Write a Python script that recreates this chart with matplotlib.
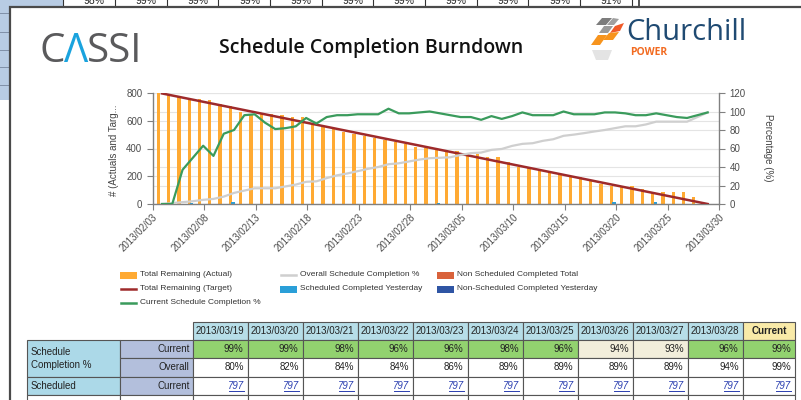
import matplotlib
matplotlib.use("Agg")
import matplotlib.pyplot as plt
import matplotlib.dates as mdates
from matplotlib.patches import Rectangle, Polygon
import pandas as pd

plt.rcParams['font.family'] = ['Liberation Sans', 'DejaVu Sans']

W, H = 801, 400

# ---------------- data ----------------
start_date = '2013-02-03'
remaining_actual = [797, 792, 780, 765, 755, 752, 722, 705, 660, 652, 652, 650, 643, 628,
                    625, 572, 557, 541, 521, 502, 492, 473, 461, 449, 432, 413, 401, 390,
                    390, 383, 363, 359, 339, 339, 306, 266, 266, 245, 235, 206, 200, 194,
                    172, 147, 133, 122, 127, 108, 80, 85, 85, 85, 47]
current_completion = [0, 0, 37, 50, 63, 52, 76, 80, 96, 97, 88, 81, 82, 84, 93, 87, 94, 96,
                      96, 97, 97, 97, 103, 98, 98, 99, 100, 98, 96, 94, 94, 91, 95, 92, 95,
                      99, 96, 96, 96, 100, 97, 97, 97, 99, 99, 98, 96, 96, 98, 96, 94, 93,
                      96, 99]
overall_completion = [0, 1, 2, 3, 4.5, 5.5, 8, 12, 14.5, 17, 17, 17, 19, 21, 24, 24.5, 28,
                      31, 33, 35.5, 38, 40, 43, 44, 46, 48, 49.5, 50, 50.5, 53, 55, 55.6,
                      58.5, 59.5, 62.8, 65, 65.7, 68.3, 70, 73.7, 75, 76.6, 78.4, 80, 82, 84,
                      84, 86, 89, 89, 89, 89, 94, 99]
target_values = [797, 0]
sched_yesterday_dates = ['2013-02-06', '2013-02-10', '2013-03-02', '2013-03-19', '2013-03-23']
sched_yesterday_vals = [10, 12, 10, 12, 12]

x_tick_labels = ['2013/02/03', '2013/02/08', '2013/02/13', '2013/02/18', '2013/02/23',
                 '2013/02/28', '2013/03/05', '2013/03/10', '2013/03/15', '2013/03/20',
                 '2013/03/25', '2013/03/30']
left_ticks = [0, 200, 400, 600, 800]
right_ticks = [0, 20, 40, 60, 80, 100, 120]

legend_labels = ['Total Remaining (Actual)', 'Overall Schedule Completion %',
                 'Non Scheduled Completed Total', 'Total Remaining (Target)',
                 'Scheduled Completed Yesterday', 'Non-Scheduled Completed Yesterday',
                 'Current Schedule Completion %']

table_dates = ['2013/03/19', '2013/03/20', '2013/03/21', '2013/03/22', '2013/03/23',
               '2013/03/24', '2013/03/25', '2013/03/26', '2013/03/27', '2013/03/28', 'Current']
table_current = [99, 99, 98, 96, 96, 98, 96, 94, 93, 96, 99]
table_overall = [80, 82, 84, 84, 86, 89, 89, 89, 89, 94, 99]
table_scheduled = [797, 797, 797, 797, 797, 797, 797, 797, 797, 797, 797]
top_strip_pct = ['98%', '99%', '99%', '99%', '99%', '99%', '99%', '99%', '99%', '99%', '91%']

# ---------------- colours ----------------
C_BAR = '#ffaa33'
C_TARGET = '#9e2a2b'
C_CURRENT = '#3a9b5c'
C_OVERALL = '#cfcfcf'
C_NONSCHED = '#d9623b'
C_SCHEDY = '#2a9fd8'
C_NONSCHEDY = '#2f55a4'

fig = plt.figure(figsize=(W / 100, H / 100), dpi=100)
bg = fig.add_axes([0, 0, 1, 1])
bg.set_xlim(0, W)
bg.set_ylim(H, 0)
bg.axis('off')
bg.set_zorder(0)

# ---- spreadsheet background ----
bg.add_patch(Rectangle((0, 0), 10, 100, fc='#b8cce4', ec='none'))
for yy in [13, 32, 50, 67, 85]:
    bg.plot([0, 10], [yy, yy], color='#8090a8', lw=0.7)
bg.add_patch(Rectangle((0, 0), 63, 8, fc='#b8cce4', ec='none'))
cell_edges = [63.3, 115, 166.7, 218.3, 270, 321.7, 373.3, 425, 476.7, 528.3, 580, 631.7]
for xe in cell_edges:
    bg.plot([xe, xe], [0, 8], color='#333333', lw=0.8)
bg.plot([639, 639], [0, 8], color='#333333', lw=1.2)
for i, t in enumerate(top_strip_pct):
    bg.text(cell_edges[i + 1] - 10, 4.5, t, fontsize=7.5, ha='right', va='baseline',
            color='#222222', clip_on=True)

# ---- white panel ----
bg.add_patch(Rectangle((10, 7), 900, 500, fc='white', ec='#4a4a4a', lw=1.6, zorder=2))

# ---- CASSI logo ----
bg.text(40, 62, 'C', fontsize=29, color='#5a5a5c', family='Open Sans', va='baseline', zorder=3)
bg.text(64.5, 62, 'Λ', fontsize=29, color='#1aa3de', family='Open Sans', va='baseline', zorder=3)
bg.text(87, 62, 'SSI', fontsize=29, color='#5a5a5c', family='Open Sans', va='baseline', zorder=3)

# ---- title ----
bg.text(371, 48, 'Schedule Completion Burndown', fontsize=14, color='#111111',
        family='Open Sans', weight='semibold', ha='center', va='center', zorder=3)

# ---- Churchill logo ----
icon = [
    ([(596, 25), (602, 18), (612, 18), (606, 25)], '#7d7d7d'),
    ([(607, 25), (613, 18), (619, 19), (614, 25)], '#a0a0a0'),
    ([(599, 33), (604, 26), (613, 26), (608, 33)], '#9a9a9a'),
    ([(610, 33), (615, 26), (624, 23), (620, 31)], '#f05a28'),
    ([(591, 45), (598, 35), (607, 35), (600, 45)], '#f7941d'),
    ([(603, 40), (609, 33), (619, 32), (613, 40)], '#f7941d'),
    ([(592, 50), (612, 50), (608, 60), (596, 60)], '#e4e4e4'),
]
for pts, col in icon:
    bg.add_patch(Polygon(pts, closed=True, fc=col, ec='none', zorder=3))
bg.text(626, 40.5, 'Churchill', fontsize=21, color='#1f4a72', family='Open Sans',
        va='baseline', zorder=3)
bg.text(630, 55, 'POWER', fontsize=7.5, color='#f26b21', weight='bold',
        family='Open Sans', va='baseline', zorder=3)

# ---------------- chart ----------------
ax = fig.add_axes([152.7 / W, 1 - 204 / H, (719 - 152.7) / W, 111 / H])
ax.set_zorder(5)
ax.patch.set_alpha(0)
ax2 = ax.twinx()
ax2.set_zorder(6)
ax2.patch.set_alpha(0)

bar_dates = pd.date_range(start_date, periods=len(remaining_actual))
line_dates = pd.date_range(start_date, periods=len(current_completion))
bar_x = mdates.date2num(bar_dates) + 0.55
line_x = mdates.date2num(line_dates) + 0.9
x0 = mdates.date2num(pd.Timestamp(start_date))

for p in right_ticks:
    ax.axhline(p * 800 / 120, color='#e4e4e4', lw=0.8, zorder=0)
for p in left_ticks:
    ax.axhline(p, color='#e4e4e4', lw=0.8, zorder=0)

ax.bar(bar_x, remaining_actual, width=0.32, color=C_BAR, zorder=2)
sy_x = mdates.date2num(pd.to_datetime(sched_yesterday_dates)) + 0.8
ax.bar(sy_x, sched_yesterday_vals, width=0.3, color=C_SCHEDY, zorder=2)
ax.plot([line_x[0], line_x[-1]], target_values, color=C_TARGET, lw=1.8, zorder=3)

ax2.plot(line_x, overall_completion, color=C_OVERALL, lw=1.6)
ax2.plot(line_x, current_completion, color=C_CURRENT, lw=1.6)

ax.set_xlim(x0, x0 + 55)
ax.set_ylim(0, 800)
ax2.set_ylim(0, 120)
tick_pos = mdates.date2num(pd.to_datetime([t.replace('/', '-') for t in x_tick_labels]))
ax.set_xticks(tick_pos)
ax.set_xticklabels(x_tick_labels, rotation=45, ha='right', rotation_mode='anchor')
ax.set_yticks(left_ticks)
ax2.set_yticks(right_ticks)

for a in (ax, ax2):
    a.spines['top'].set_visible(False)
    for s in a.spines.values():
        s.set_color('#808080')
        s.set_linewidth(1.0)
    a.tick_params(colors='#808080', labelcolor='#4d4d4d', labelsize=7, length=4, width=0.8)
ax.spines['right'].set_visible(False)
ax2.spines['left'].set_visible(False)
ax2.spines['bottom'].set_visible(False)
ax.tick_params(axis='x', pad=2)

fig.text(114 / W, 1 - 150 / H, '# (Actuals and Targ...', rotation=90, fontsize=7,
         color='#444444', ha='center', va='center')
fig.text(768 / W, 1 - 148 / H, 'Percentage (%)', rotation=270, fontsize=7,
         color='#444444', ha='center', va='center')

# ---------------- legend ----------------
leg_pos = [(120, 275), (280, 275), (437, 275), (120, 289), (280, 289), (437, 289), (120, 303)]
leg_kind = ['patch', 'line', 'patch', 'line', 'patch', 'patch', 'line']
leg_col = [C_BAR, C_OVERALL, C_NONSCHED, C_TARGET, C_SCHEDY, C_NONSCHEDY, C_CURRENT]
for (lx, ly), kind, col, lab in zip(leg_pos, leg_kind, leg_col, legend_labels):
    if kind == 'patch':
        bg.add_patch(Rectangle((lx, ly - 3.5), 17, 7, fc=col, ec='none', zorder=3))
    else:
        bg.plot([lx + 1, lx + 16], [ly, ly], color=col, lw=1.8, zorder=3)
    bg.text(lx + 20, ly, lab, fontsize=6, color='#333333', va='center', ha='left', zorder=3)

# ---------------- table ----------------
row_y = [322, 340, 358, 377, 395, 413]
col1 = (26.7, 120)
col2 = (120, 192.7)
date_x = [192.7 + 55 * i for i in range(11)]
date_x[-1] = 742.7
date_right = date_x[1:] + [795]
EC = '#555555'
TFS = 7

def cell(x0_, y0_, x1_, y1_, fc):
    bg.add_patch(Rectangle((x0_, y0_), x1_ - x0_, y1_ - y0_, fc=fc, ec=EC, lw=0.8, zorder=3))

for i, d in enumerate(table_dates):
    is_cur = d == 'Current'
    cell(date_x[i], row_y[0], date_right[i], row_y[1], '#f9eaa8' if is_cur else '#b7dee8')
    bg.text((date_x[i] + date_right[i]) / 2, (row_y[0] + row_y[1]) / 2, d, fontsize=TFS,
            ha='center', va='center', weight='bold' if is_cur else 'normal',
            color='#222222', zorder=4)

cell(col1[0], row_y[1], col1[1], row_y[3], '#acd9e8')
bg.text(col1[0] + 4, (row_y[1] + row_y[3]) / 2, 'Schedule\nCompletion %', fontsize=TFS,
        ha='left', va='center', color='#222222', linespacing=1.3, zorder=4)
cell(col1[0], row_y[3], col1[1], row_y[4], '#acd9e8')
bg.text(col1[0] + 4, (row_y[3] + row_y[4]) / 2, 'Scheduled', fontsize=TFS,
        ha='left', va='center', color='#222222', zorder=4)
cell(col1[0], row_y[4], col1[1], row_y[5], 'white')

for r, lab in zip([1, 2, 3], ['Current', 'Overall', 'Current']):
    cell(col2[0], row_y[r], col2[1], row_y[r + 1], '#b3bfdc')
    bg.text(col2[1] - 3, (row_y[r] + row_y[r + 1]) / 2, lab, fontsize=TFS, ha='right',
            va='center', color='#222222', zorder=4)
cell(col2[0], row_y[4], col2[1], row_y[5], 'white')

for i in range(len(table_dates)):
    xa, xb = date_x[i], date_right[i]
    v = table_current[i]
    fc = '#f2eedb' if v < 95 else '#92d26f'
    cell(xa, row_y[1], xb, row_y[2], fc)
    bg.text(xb - 4, (row_y[1] + row_y[2]) / 2, f'{v}%', fontsize=TFS, ha='right',
            va='center', color='#222222', zorder=4)
    cell(xa, row_y[2], xb, row_y[3], 'white')
    bg.text(xb - 4, (row_y[2] + row_y[3]) / 2, f'{table_overall[i]}%', fontsize=TFS,
            ha='right', va='center', color='#222222', zorder=4)
    cell(xa, row_y[3], xb, row_y[4], 'white')
    ym = (row_y[3] + row_y[4]) / 2
    bg.text(xb - 4, ym, str(table_scheduled[i]), fontsize=TFS, ha='right', va='center',
            color='#2b3fb0', style='italic', zorder=4)
    bg.plot([xb - 19, xb - 4], [ym + 4.5, ym + 4.5], color='#2b3fb0', lw=0.7, zorder=4)
    cell(xa, row_y[4], xb, row_y[5], 'white')

fig.savefig('out.png', dpi=100)
